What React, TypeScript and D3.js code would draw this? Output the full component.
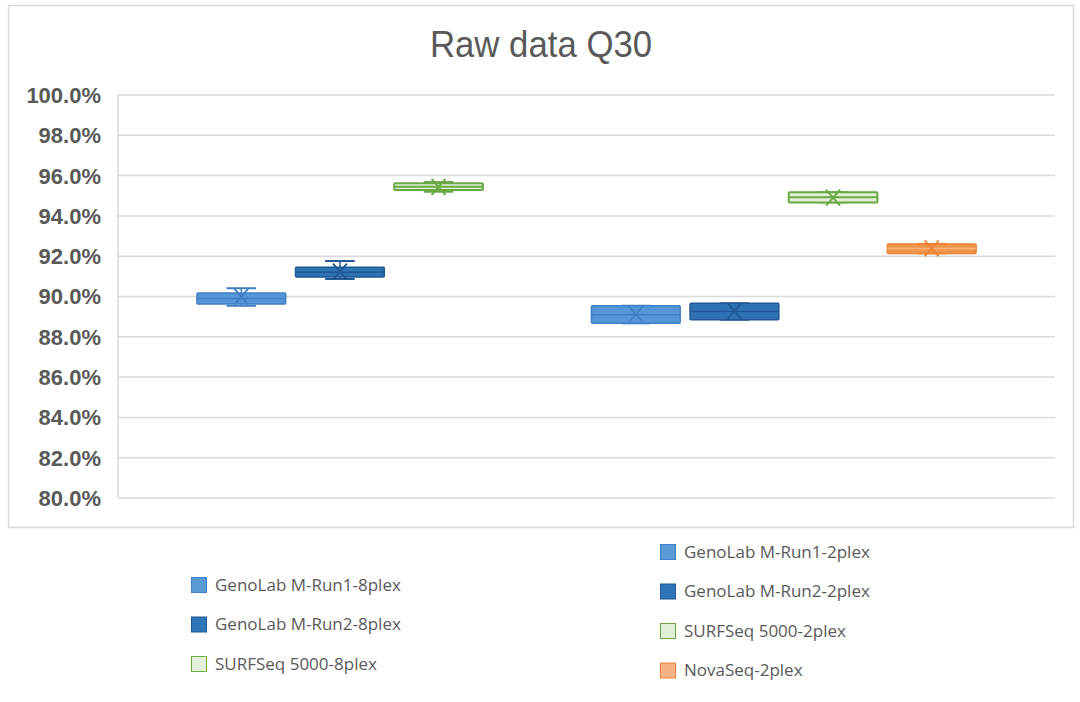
import * as d3 from 'd3';

// series in plotting order; '' is the empty slot between the two groups
const seriesNames = [
  'GenoLab M-Run1-8plex',
  'GenoLab M-Run2-8plex',
  'SURFSeq 5000-8plex',
  '',
  'GenoLab M-Run1-2plex',
  'GenoLab M-Run2-2plex',
  'SURFSeq 5000-2plex',
  'NovaSeq-2plex',
];

// box stats (percent)
const mins = [89.54, 90.87, 95.2, 0, 88.67, 88.85, 94.67, 92.14];
const q1s = [89.63, 90.97, 95.28, 0, 88.67, 88.85, 94.67, 92.14];
const medians = [89.9, 91.2, 95.45, 0, 89.1, 89.25, 94.92, 92.38];
const q3s = [90.17, 91.45, 95.62, 0, 89.54, 89.66, 95.17, 92.61];
const maxs = [90.41, 91.76, 95.68, 0, 89.54, 89.66, 95.17, 92.61];
const means = [89.99, 91.23, 95.44, 0, 89.12, 89.28, 94.91, 92.39];

const yTicks = [80, 82, 84, 86, 88, 90, 92, 94, 96, 98, 100];

const legendLeft = ['GenoLab M-Run1-8plex', 'GenoLab M-Run2-8plex', 'SURFSeq 5000-8plex'];
const legendRight = ['GenoLab M-Run1-2plex', 'GenoLab M-Run2-2plex', 'SURFSeq 5000-2plex', 'NovaSeq-2plex'];

type Style = { fill: string; stroke: string; median: string; sw: number; legendFill: string };
const styles: Record<string, Style> = {
  run1: { fill: '#5596D8', stroke: '#3F80C6', median: '#3F80C6', sw: 1.5, legendFill: '#5B9BD5' },
  run2: { fill: '#2E72B4', stroke: '#1F5894', median: '#1F5894', sw: 1.5, legendFill: '#2E75B6' },
  surf: { fill: '#E2F0D9', stroke: '#6AA843', median: '#6AA843', sw: 2, legendFill: '#E2F0D9' },
  nova: { fill: '#F09447', stroke: '#EC8236', median: '#F5B27F', sw: 1.5, legendFill: '#F4B183' },
};
const styleOf = (name: string): Style => {
  if (name.includes('Run1')) return styles.run1;
  if (name.includes('Run2')) return styles.run2;
  if (name.includes('SURF')) return styles.surf;
  return styles.nova;
};

const W = 1080;
const H = 702;
const plot = { left: 118, right: 1055, top: 95, bottom: 498 };
const font = '"Open Sans", "Liberation Sans", sans-serif';

export default function App() {
  const x = d3
    .scaleBand<string>()
    .domain(seriesNames.map((s, i) => s || `gap${i}`))
    .range([plot.left, plot.right])
    .paddingInner(0.1)
    .paddingOuter(0.8);
  const y = d3.scaleLinear().domain([80, 100]).range([plot.bottom, plot.top]);
  const bw = x.bandwidth();

  return (
    <svg
      width={W}
      height={H}
      style={{ position: 'absolute', left: 0, top: 0, background: '#fff' }}
    >
      <rect x={8.5} y={5.5} width={1065} height={522} fill="#fff" stroke="#d9d9d9" strokeWidth={1.5} />
      <text
        transform="translate(541,57) scale(0.94,1)"
        textAnchor="middle"
        fontFamily='"Liberation Sans", Arial, sans-serif'
        fontSize={37}
        fill="#595959"
      >
        Raw data Q30
      </text>

      {yTicks.map((t) => (
        <g key={t}>
          <line x1={plot.left} x2={plot.right} y1={y(t)} y2={y(t)} stroke="#d9d9d9" strokeWidth={1.5} />
          <text
            x={101}
            y={y(t)}
            dy="0.36em"
            textAnchor="end"
            fontFamily='"Liberation Sans", Arial, sans-serif'
            fontWeight="bold"
            fontSize={22}
            fill="#595959"
          >
            {d3.format('.1f')(t)}%
          </text>
        </g>
      ))}
      <line x1={plot.left} x2={plot.left} y1={plot.top} y2={plot.bottom} stroke="#d9d9d9" strokeWidth={1.5} />

      {seriesNames.map((name, i) => {
        if (!name) return null;
        const st = styleOf(name);
        const x0 = x(name) as number;
        const cx = x0 + bw / 2;
        const cap = bw / 3;
        const mx = means[i];
        return (
          <g key={name}>
            <line x1={cx} x2={cx} y1={y(maxs[i])} y2={y(q3s[i])} stroke={st.stroke} strokeWidth={1.5} />
            <line x1={cx} x2={cx} y1={y(mins[i])} y2={y(q1s[i])} stroke={st.stroke} strokeWidth={1.5} />
            <line x1={cx - cap / 2} x2={cx + cap / 2} y1={y(maxs[i])} y2={y(maxs[i])} stroke={st.stroke} strokeWidth={2} />
            <line x1={cx - cap / 2} x2={cx + cap / 2} y1={y(mins[i])} y2={y(mins[i])} stroke={st.stroke} strokeWidth={2} />
            <rect
              x={x0}
              y={y(q3s[i])}
              width={bw}
              height={y(q1s[i]) - y(q3s[i])}
              fill={st.fill}
              stroke={st.stroke}
              strokeWidth={st.sw}
              rx={1}
            />
            <line x1={x0} x2={x0 + bw} y1={y(medians[i])} y2={y(medians[i])} stroke={st.median} strokeWidth={st.sw} />
            <path
              d={`M${cx - 7},${y(mx) - 8}L${cx + 7},${y(mx) + 8}M${cx - 7},${y(mx) + 8}L${cx + 7},${y(mx) - 8}`}
              stroke={st.stroke}
              strokeWidth={1.8}
              fill="none"
            />
          </g>
        );
      })}

      {legendLeft.map((name, i) => {
        const st = styleOf(name);
        const ly = 585 + i * 39.5;
        return (
          <g key={name}>
            <rect x={191.5} y={ly - 7.5} width={15} height={15} fill={st.legendFill} stroke={st.stroke} strokeWidth={1} />
            <text x={215} y={ly} dy="0.35em" fontFamily={font} fontSize={17} fill="#595959">
              {name}
            </text>
          </g>
        );
      })}
      {legendRight.map((name, i) => {
        const st = styleOf(name);
        const ly = 552 + i * 39.5;
        return (
          <g key={name}>
            <rect x={660.5} y={ly - 7.5} width={15} height={15} fill={st.legendFill} stroke={st.stroke} strokeWidth={1} />
            <text x={684} y={ly} dy="0.35em" fontFamily={font} fontSize={17} fill="#595959">
              {name}
            </text>
          </g>
        );
      })}
    </svg>
  );
}
